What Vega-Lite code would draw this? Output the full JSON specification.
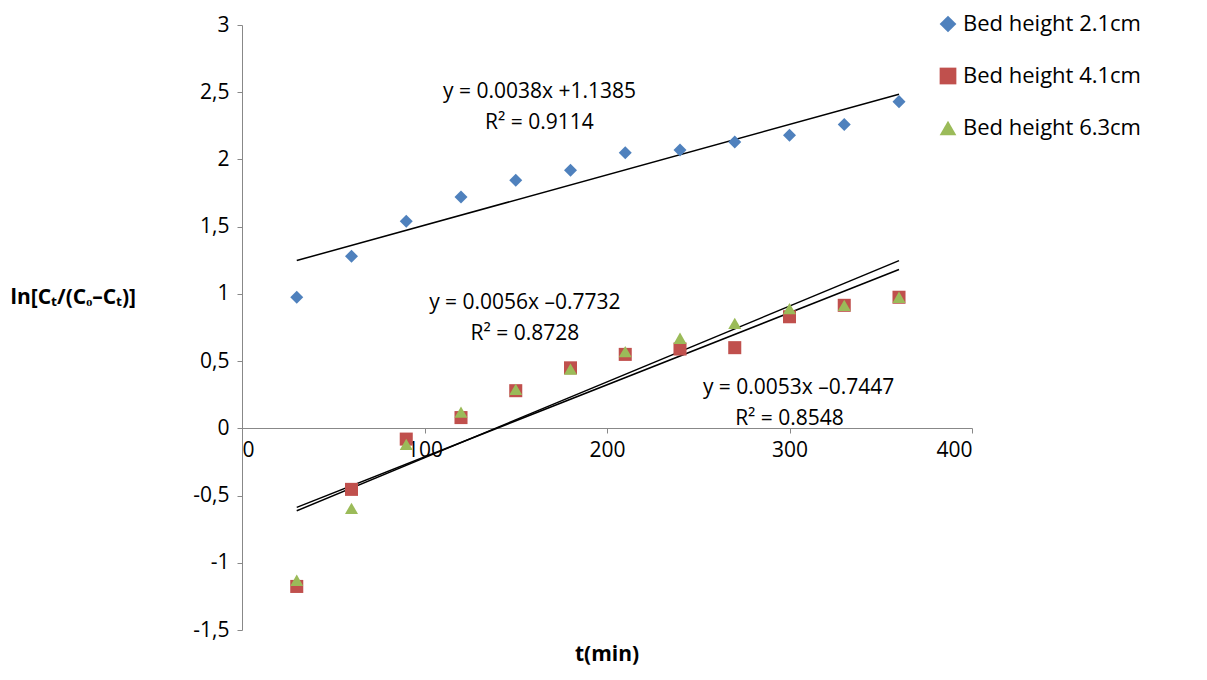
{
"$schema":"https://vega.github.io/schema/vega-lite/v6.json",
"width":730,"height":605,
"autosize":{"type":"none"},
"padding":{"left":242,"top":25,"right":235,"bottom":50},
"background":"white",
"title":{"text":"t(min)","orient":"bottom","fontSize":21,"font":"Open Sans","fontWeight":"bold","offset":4,"anchor":"middle"},
"config":{"view":{"stroke":null},"font":"Open Sans"},
"data":{"values":[
{"t":30,"v":0.975,"s":"Bed height 2.1cm"},{"t":60,"v":1.28,"s":"Bed height 2.1cm"},{"t":90,"v":1.54,"s":"Bed height 2.1cm"},{"t":120,"v":1.72,"s":"Bed height 2.1cm"},{"t":150,"v":1.845,"s":"Bed height 2.1cm"},{"t":180,"v":1.92,"s":"Bed height 2.1cm"},{"t":210,"v":2.05,"s":"Bed height 2.1cm"},{"t":240,"v":2.07,"s":"Bed height 2.1cm"},{"t":270,"v":2.13,"s":"Bed height 2.1cm"},{"t":300,"v":2.18,"s":"Bed height 2.1cm"},{"t":330,"v":2.26,"s":"Bed height 2.1cm"},{"t":360,"v":2.43,"s":"Bed height 2.1cm"},
{"t":30,"v":-1.176,"s":"Bed height 4.1cm"},{"t":60,"v":-0.454,"s":"Bed height 4.1cm"},{"t":90,"v":-0.08,"s":"Bed height 4.1cm"},{"t":120,"v":0.08,"s":"Bed height 4.1cm"},{"t":150,"v":0.28,"s":"Bed height 4.1cm"},{"t":180,"v":0.45,"s":"Bed height 4.1cm"},{"t":210,"v":0.55,"s":"Bed height 4.1cm"},{"t":240,"v":0.59,"s":"Bed height 4.1cm"},{"t":270,"v":0.6,"s":"Bed height 4.1cm"},{"t":300,"v":0.83,"s":"Bed height 4.1cm"},{"t":330,"v":0.915,"s":"Bed height 4.1cm"},{"t":360,"v":0.975,"s":"Bed height 4.1cm"},
{"t":30,"v":-1.13,"s":"Bed height 6.3cm"},{"t":60,"v":-0.595,"s":"Bed height 6.3cm"},{"t":90,"v":-0.12,"s":"Bed height 6.3cm"},{"t":120,"v":0.12,"s":"Bed height 6.3cm"},{"t":150,"v":0.29,"s":"Bed height 6.3cm"},{"t":180,"v":0.44,"s":"Bed height 6.3cm"},{"t":210,"v":0.57,"s":"Bed height 6.3cm"},{"t":240,"v":0.67,"s":"Bed height 6.3cm"},{"t":270,"v":0.78,"s":"Bed height 6.3cm"},{"t":300,"v":0.89,"s":"Bed height 6.3cm"},{"t":330,"v":0.915,"s":"Bed height 6.3cm"},{"t":360,"v":0.975,"s":"Bed height 6.3cm"}
]},
"layer":[
{"transform":[{"regression":"v","on":"t","groupby":["s"],"extent":[30,360]}],
 "mark":{"type":"line","color":"black","strokeWidth":1.5},
 "encoding":{"x":{"field":"t","type":"quantitative"},"y":{"field":"v","type":"quantitative"},"detail":{"field":"s"}}},
{"mark":{"type":"point","filled":true,"opacity":1,"size":170},
 "encoding":{
 "x":{"field":"t","type":"quantitative","scale":{"domain":[0,400],"nice":false},"axis":{"values":[0,100,200,300,400],"title":null,"offset":-202,"labelFontSize":21,"labelColor":"black","domainColor":"#888","tickColor":"#888","grid":false,"labelPadding":6}},
 "y":{"field":"v","type":"quantitative","scale":{"domain":[-1.5,3],"nice":false},"axis":{"values":[-1.5,-1,-0.5,0,0.5,1,1.5,2,2.5,3],"labelExpr":"replace(replace(format(datum.value,'.1~f'),'.',','),'−','-')","labelFontSize":21,"labelColor":"black","domainColor":"#888","tickColor":"#888","grid":false,"labelPadding":8,"title":"ln[Cₜ/(Cₒ–Cₜ)]","titleAngle":0,"titleAlign":"left","titleX":-232,"titleY":282,"titleFontSize":21,"titleFontWeight":"bold"}},
 "color":{"field":"s","type":"nominal","scale":{"range":["#4F81BD","#C0504D","#9BBB59"]},"legend":{"title":null,"orient":"none","legendX":695,"legendY":-12,"labelFontSize":22,"labelColor":"black","symbolSize":280,"rowPadding":30,"labelLimit":400}},
 "shape":{"field":"s","type":"nominal","scale":{"range":["diamond","square","triangle-up"]}}}},
{"data":{"values":[
{"t":163,"v":2.5,"l":"y = 0.0038x +1.1385"},{"t":163,"v":2.27,"l":"R² = 0.9114"},
{"t":155,"v":0.93,"l":"y = 0.0056x –0.7732"},{"t":155,"v":0.7,"l":"R² = 0.8728"},
{"t":305,"v":0.3,"l":"y = 0.0053x –0.7447"},{"t":300,"v":0.07,"l":"R² = 0.8548"}]},
 "mark":{"type":"text","fontSize":21,"color":"black","align":"center"},
 "encoding":{"x":{"field":"t","type":"quantitative"},"y":{"field":"v","type":"quantitative"},"text":{"field":"l"}}}
]
}
